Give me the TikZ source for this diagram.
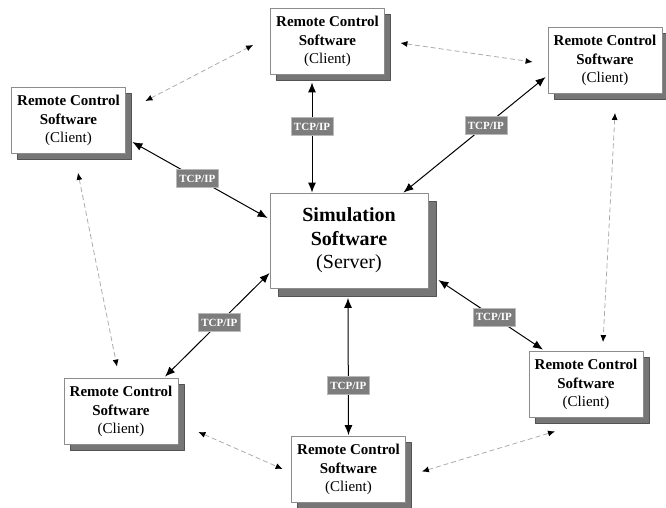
\documentclass[tikz,border=0pt]{standalone}
\usepackage{fontspec}
\setmainfont{Liberation Serif}
\usetikzlibrary{arrows.meta,shadows}
\definecolor{shadegray}{HTML}{767676}
\definecolor{framegray}{HTML}{8C8C8C}
\definecolor{labelgray}{HTML}{7D7D7D}
\begin{document}
\begin{tikzpicture}[x=1pt,y=-1pt,line join=round,>={Latex[length=10pt,width=8pt]}]
  \tikzset{box/.style={draw=framegray,fill=white,line width=0.8pt,align=center,inner sep=2pt},
    client/.style={box,minimum width=114pt,minimum height=66pt,font=\fontsize{15}{18.5}\selectfont,
      drop shadow={shadow xshift=6pt,shadow yshift=-6pt,opacity=1,fill=shadegray,draw=shadegray!70!black,line width=0.5pt}},
    server/.style={box,minimum width=158pt,minimum height=95pt,font=\fontsize{20}{23.5}\selectfont,
      drop shadow={shadow xshift=8pt,shadow yshift=-8pt,opacity=1,fill=shadegray,draw=shadegray!70!black,line width=0.5pt}},
    tcp/.style={<->,line width=1pt},
    peer/.style={<->,draw=gray!65,line width=0.8pt,dash pattern=on 5pt off 3pt,
      >={Latex[length=7pt,width=6pt,color=black]}},
    tcplabel/.style={fill=labelgray,draw=gray!55,line width=0.6pt,text=white,
      font=\fontsize{11}{11}\selectfont\bfseries,inner xsep=3pt,inner ysep=0pt,minimum height=18pt}}
  \useasboundingbox (0,0) rectangle (666,508);
  % server in the middle
  \node[server] (srv) at (349,240.5) {\textbf{Simulation}\\\textbf{Software}\\(Server)};
  % the six clients
  \foreach \n/\x/\y in {ct/327.5/41.5,cl/68.5/120.5,ctr/605/60.5,cbr/586/384.5,cbl/121/411.5,cb/348.5/469.5}
    \node[client] (\n) at (\x,\y) {\textbf{Remote Control}\\\textbf{Software}\\(Client)};
  % TCP/IP links
  \draw[tcp] ([shift={(-15.5,7.5)}]ct.south) -- ([shift={(-37,0)}]srv.north) node[tcplabel,pos=.4] {TCP/IP};
  \draw[tcp] ([shift={(6.5,21.5)}]cl.east) -- ([shift={(-2,-22.5)}]srv.west) node[tcplabel,pos=.48] {TCP/IP};
  \draw[tcp] ([shift={(-25,0)}]srv.north east) -- ([shift={(-2,16.5)}]ctr.west) node[tcplabel,pos=.58] {TCP/IP};
  \draw[tcp] ([shift={(0,32.5)}]srv.west) -- ([shift={(44,-1.5)}]cbl.north) node[tcplabel,pos=.48] {TCP/IP};
  \draw[tcp] ([shift={(-1,9.5)}]srv.south) -- ([shift={(0,-1)}]cb.north) node[tcplabel,pos=.64] {TCP/IP};
  \draw[tcp] ([shift={(10,39.5)}]srv.east) -- ([shift={(-43,-1.5)}]cbr.north) node[tcplabel,pos=.53] {TCP/IP};
  % client to client
  \draw[peer] ([shift={(19.5,-19.5)}]cl.east) -- ([shift={(-17,3.5)}]ct.west);
  \draw[peer] ([shift={(15.5,1.5)}]ct.east) -- ([shift={(-15,1.5)}]ctr.west);
  \draw[peer] ([shift={(10,19)}]ctr.south) -- ([shift={(17,-9)}]cbr.north);
  \draw[peer] ([shift={(9.5,19)}]cl.south) -- ([shift={(-4,-11.5)}]cbl.north);
  \draw[peer] ([shift={(20,20.5)}]cbl.east) -- ([shift={(-8.5,-0.5)}]cb.west);
  \draw[peer] ([shift={(16,2)}]cb.east) -- ([shift={(-31,13.5)}]cbr.south);
\end{tikzpicture}
\end{document}
